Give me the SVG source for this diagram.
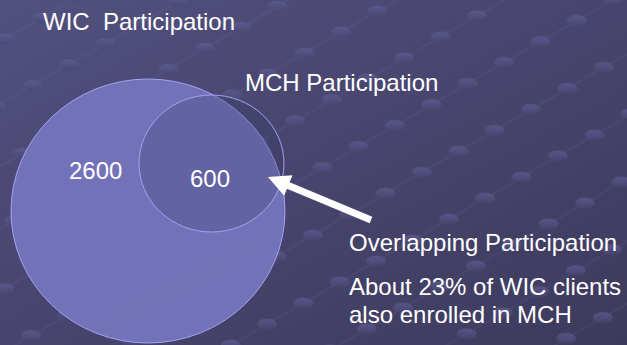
<svg xmlns="http://www.w3.org/2000/svg" width="627" height="345" viewBox="0 0 627 345">
  <defs>
    <linearGradient id="bg" x1="0" y1="0" x2="1" y2="1">
      <stop offset="0" stop-color="#52507e"/>
      <stop offset="1" stop-color="#3c3a5c"/>
    </linearGradient>
    <linearGradient id="dot" x1="0" y1="0" x2="0" y2="1">
      <stop offset="0" stop-color="#63619a"/>
      <stop offset="1" stop-color="#47456f"/>
    </linearGradient>
    <pattern id="grid" width="42" height="54" patternUnits="userSpaceOnUse" patternTransform="translate(10,5) rotate(-30)">
      <line x1="0" y1="27" x2="42" y2="27" stroke="#7876a8" stroke-opacity="0.22" stroke-width="1"/>
      <ellipse cx="21" cy="27" rx="10" ry="5.5" transform="rotate(30 21 27)" fill="url(#dot)" opacity="0.65"/>
    </pattern>
    <style>
      .t { font-family: "Liberation Sans", Arial, sans-serif; font-size: 24px; fill: #ffffff; white-space: pre; }
    </style>
  </defs>
  <rect width="627" height="345" fill="url(#bg)"/>
  <rect width="627" height="345" fill="url(#grid)"/>

  <g id="wic">
    <ellipse cx="148" cy="211" rx="137" ry="132" fill="#7675bd" fill-opacity="0.93" stroke="#a3a3f5" stroke-width="1"/>
    <text class="t" x="43" y="30" xml:space="preserve">WIC  Participation</text>
    <text class="t" x="69" y="179">2600</text>
  </g>

  <g id="mch">
    <ellipse cx="211.5" cy="163.5" rx="72.5" ry="68.5" fill="#34325e" fill-opacity="0.25" stroke="#a3a3f5" stroke-width="1"/>
    <text class="t" x="245" y="91">MCH Participation</text>
    <text class="t" x="190" y="187">600</text>
  </g>

  <g id="overlap">
    <text class="t" x="349" y="251">Overlapping Participation</text>
    <text class="t" x="349" y="295">About 23% of WIC clients</text>
    <text class="t" x="349" y="323">also enrolled in MCH</text>
  </g>

  <g id="connectors">
    <polygon points="268,177 292.5,175.3 289.6,182.3 372.3,216.8 369.7,223.2 287,188.7 284.1,195.7" fill="#ffffff"/>
  </g>
</svg>
